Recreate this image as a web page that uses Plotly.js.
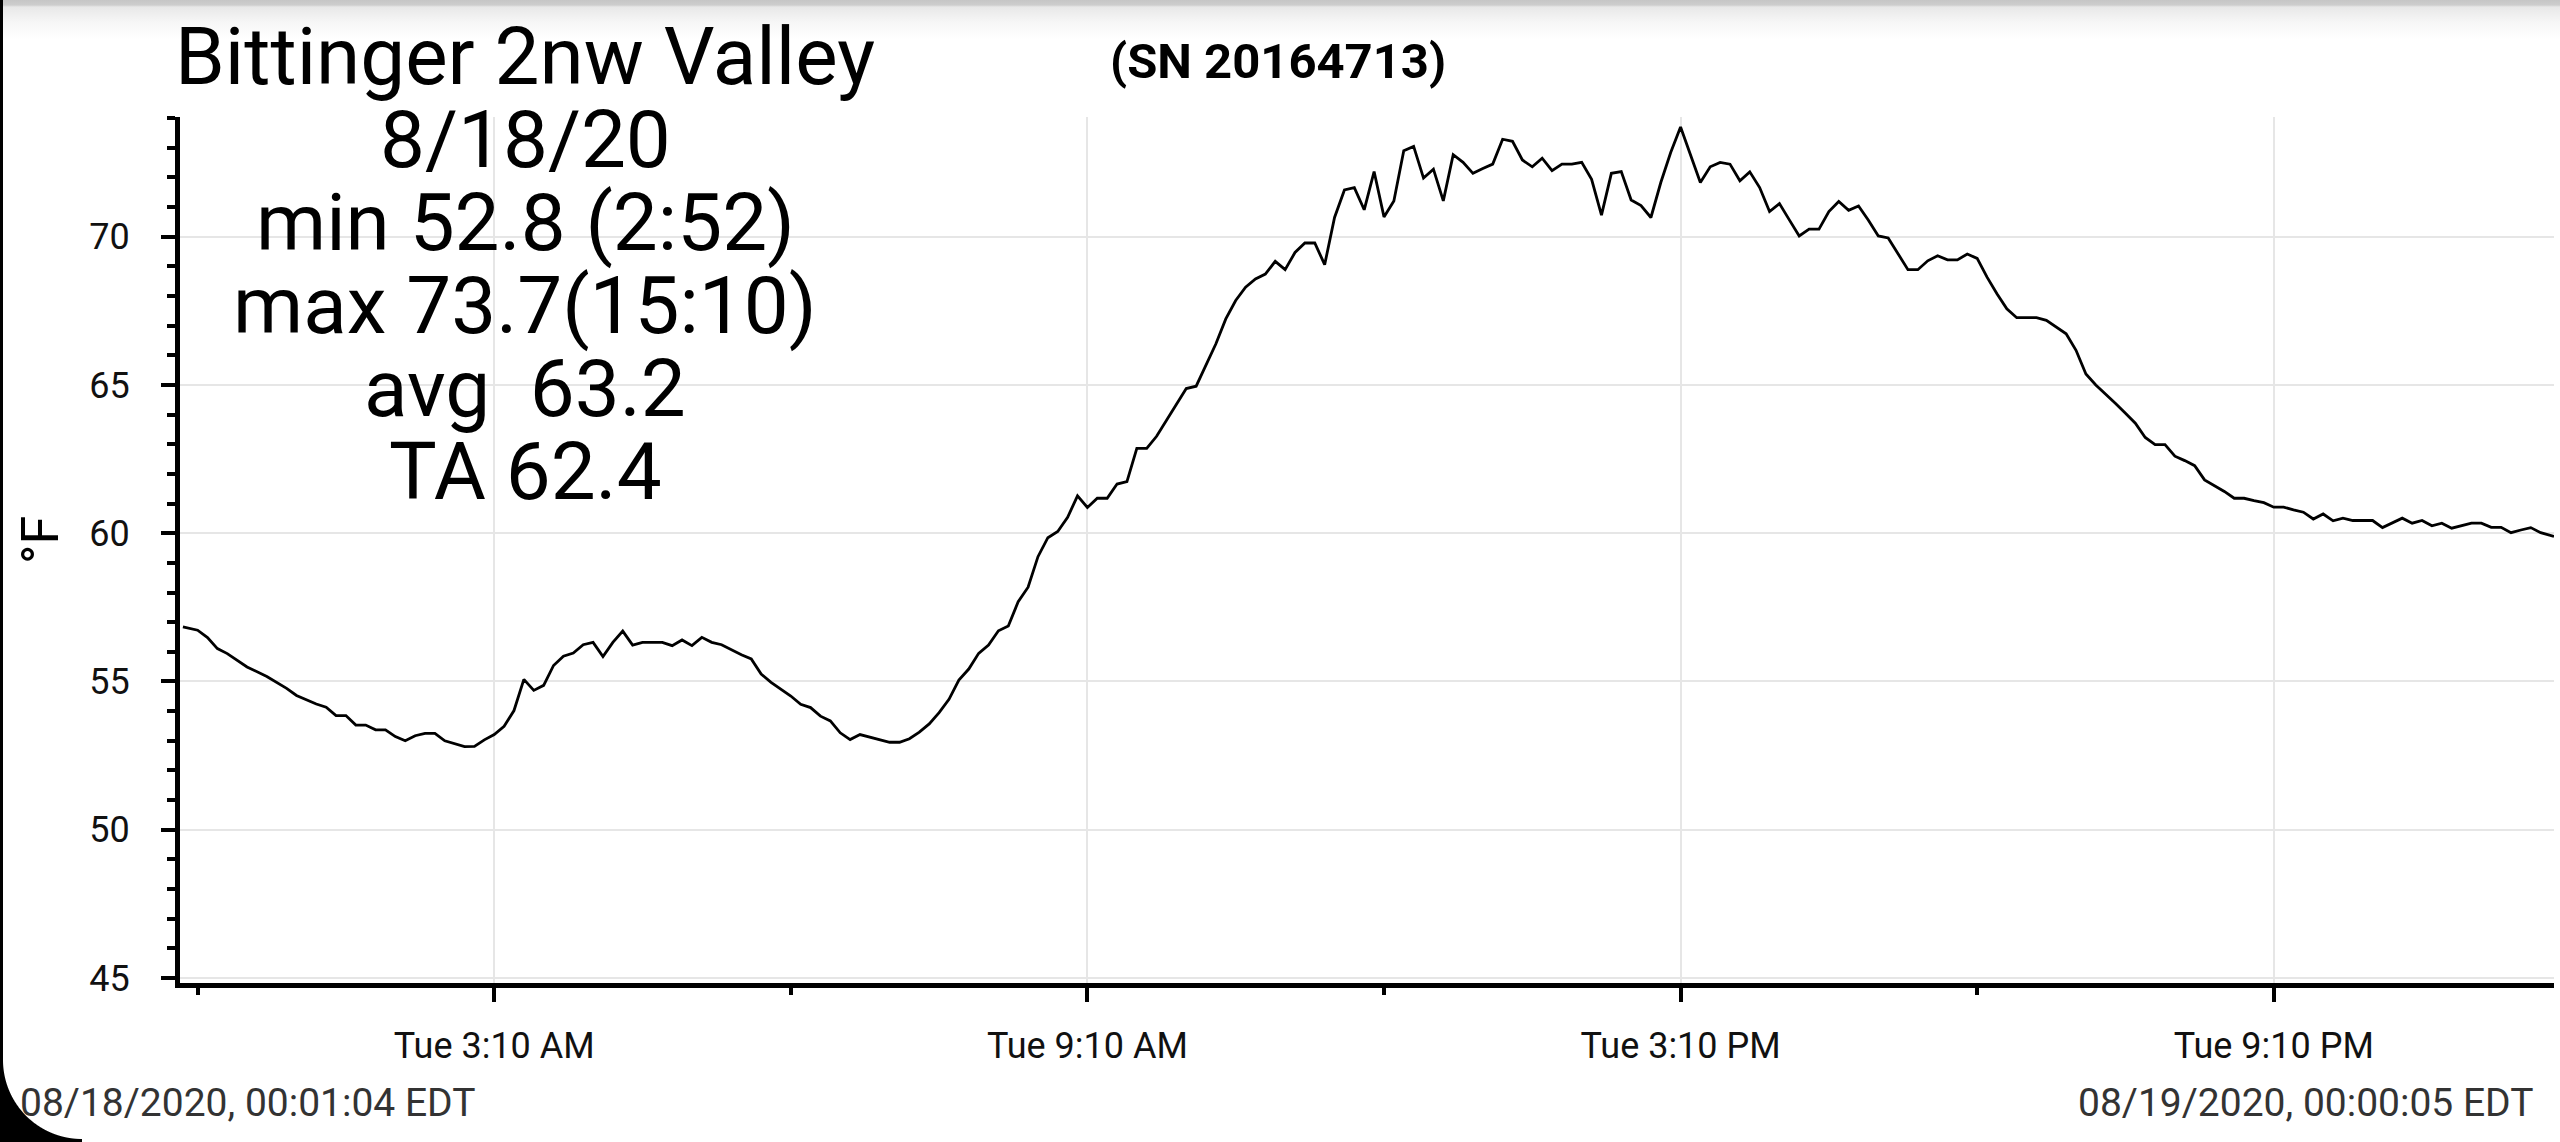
<!DOCTYPE html>
<html>
<head>
<meta charset="utf-8">
<script src="https://cdn.plot.ly/plotly-3.0.1.min.js"></script>
<style>
  html, body { margin: 0; padding: 0; background: #ffffff; }
  #wrap { position: relative; width: 2560px; height: 1142px; overflow: hidden; background: #ffffff; }
  #topband { position: absolute; left: 0; top: 0; width: 2560px; height: 40px;
    background: linear-gradient(to bottom, #c6c6c6 0px, #cdcdcd 5px, #e8e8e8 7px, #f6f6f6 22px, #ffffff 40px); }
  #leftedge { position: absolute; left: 0; top: 0; width: 3px; height: 1142px; background: #000; }
  #corner { position: absolute; left: 0; bottom: 0; width: 82px; height: 82px;
    background: radial-gradient(circle at 100% 0%, rgba(0,0,0,0) 78.5px, #000 79.5px); }
  #chart { position: absolute; left: 0; top: 0; width: 2560px; height: 1142px; }
</style>
</head>
<body>
<div id="wrap">
  <div id="topband"></div>
  <div id="leftedge"></div>
  <div id="corner"></div>
  <div id="chart"></div>
</div>
<script>
// ---- data (minutes after midnight, 08/18/2020) ----
const minutes = [
  1.07, 10, 16, 22, 28, 40, 52, 58, 64, 70, 82, 88, 94, 100, 106, 112, 118, 124, 130, 136,
  142, 148, 154, 160, 166, 172, 178, 184, 190, 196, 202, 208, 214, 220, 226, 232, 238, 244, 250, 256,
  262, 268, 274, 280, 292, 298, 304, 310, 316, 322, 328, 334, 340, 346, 352, 358, 364, 370, 376, 382,
  388, 394, 400, 406, 412, 418, 424, 430, 436, 442, 448, 454, 460, 466, 472, 478, 484, 490, 496, 502,
  508, 514, 520, 526, 532, 538, 544, 550, 556, 562, 568, 574, 580, 586, 592, 598, 604, 610, 616, 622,
  628, 634, 640, 646, 652, 658, 664, 670, 676, 682, 688, 694, 700, 706, 712, 718, 724, 730, 736, 742,
  748, 754, 760, 766, 772, 778, 784, 790, 796, 802, 808, 814, 820, 826, 832, 838, 844, 850, 856, 862,
  868, 874, 880, 886, 892, 898, 904, 910, 916, 922, 928, 934, 940, 946, 952, 958, 964, 970, 976, 982,
  988, 994, 1000, 1006, 1012, 1018, 1024, 1030, 1036, 1042, 1048, 1054, 1060, 1066, 1072, 1078, 1084, 1090, 1096, 1102,
  1108, 1114, 1120, 1126, 1132, 1138, 1144, 1150, 1156, 1162, 1168, 1174, 1180, 1186, 1192, 1198, 1204, 1210, 1216, 1222,
  1228, 1234, 1240, 1246, 1252, 1258, 1264, 1270, 1276, 1282, 1288, 1294, 1300, 1306, 1312, 1318, 1324, 1330, 1336, 1342,
  1348, 1354, 1360, 1366, 1372, 1378, 1384, 1390, 1396, 1402, 1408, 1414, 1420, 1426, 1432, 1440.08
];
const tempF = [
  56.84, 56.73, 56.48, 56.11, 55.94, 55.49, 55.17, 54.96, 54.77, 54.53, 54.24, 54.13, 53.85, 53.85, 53.53, 53.53, 53.37, 53.37, 53.14, 53.00,
  53.17, 53.25, 53.25, 53.00, 52.91, 52.80, 52.81, 53.03, 53.21, 53.49, 54.02, 55.07, 54.70, 54.87, 55.54, 55.85, 55.96, 56.24, 56.32, 55.84,
  56.32, 56.70, 56.23, 56.32, 56.32, 56.21, 56.40, 56.21, 56.49, 56.32, 56.24, 56.07, 55.90, 55.76, 55.25, 54.97, 54.74, 54.51, 54.23, 54.12,
  53.83, 53.67, 53.27, 53.04, 53.21, 53.12, 53.04, 52.95, 52.95, 53.07, 53.29, 53.57, 53.95, 54.40, 55.05, 55.42, 55.95, 56.23, 56.71, 56.87,
  57.69, 58.18, 59.21, 59.85, 60.06, 60.54, 61.26, 60.87, 61.18, 61.18, 61.66, 61.74, 62.86, 62.86, 63.27, 63.81, 64.35, 64.88, 64.96, 65.66,
  66.39, 67.23, 67.85, 68.30, 68.58, 68.74, 69.17, 68.89, 69.47, 69.79, 69.79, 69.06, 70.65, 71.58, 71.66, 70.91, 72.20, 70.67, 71.21, 72.90,
  73.05, 71.98, 72.28, 71.21, 72.77, 72.51, 72.14, 72.30, 72.45, 73.29, 73.22, 72.59, 72.36, 72.65, 72.23, 72.45, 72.45, 72.51, 71.94, 70.73,
  72.14, 72.20, 71.24, 71.05, 70.65, 71.83, 72.84, 73.70, 72.79, 71.83, 72.36, 72.51, 72.45, 71.89, 72.19, 71.66, 70.85, 71.12, 70.57, 70.03,
  70.26, 70.26, 70.85, 71.19, 70.89, 71.04, 70.56, 70.03, 69.96, 69.42, 68.89, 68.89, 69.19, 69.36, 69.22, 69.22, 69.42, 69.27, 68.64, 68.08,
  67.57, 67.27, 67.27, 67.27, 67.18, 66.96, 66.73, 66.17, 65.37, 65.00, 64.70, 64.38, 64.05, 63.71, 63.23, 62.99, 62.99, 62.60, 62.45, 62.28,
  61.80, 61.60, 61.41, 61.18, 61.18, 61.10, 61.03, 60.88, 60.88, 60.79, 60.71, 60.48, 60.65, 60.42, 60.51, 60.43, 60.43, 60.43, 60.19, 60.34,
  60.51, 60.34, 60.43, 60.25, 60.34, 60.17, 60.26, 60.34, 60.34, 60.20, 60.20, 60.02, 60.11, 60.19, 60.02, 59.89
];
const titleLines = ['Bittinger 2nw Valley', '8/18/20', 'min 52.8 (2:52)', 'max 73.7(15:10)', 'avg \u00a063.2', 'TA 62.4'];
const serialLabel = '(SN 20164713)';
const startStamp = '08/18/2020, 00:01:04 EDT';
const endStamp = '08/19/2020, 00:00:05 EDT';
const yTitle = '°F';
const xRange = ['2020-08-17 23:59:18', '2020-08-19 00:00:05'];
const yRange = [44.83, 74.04];

// ---- helpers ----
function toDate(m) {
  const base = Date.UTC(2020, 7, 18, 0, 0, 0);
  return new Date(base + Math.round(m * 60000)).toISOString().replace('T', ' ').slice(0, 19);
}
const L = 180, R = 2554, T = 117, B = 983;
const px = v => (v - L) / (R - L);
const py = v => (B - v) / (B - T);
const FONT = 'Roboto, "Noto Sans", sans-serif';

const trace = {
  type: 'scatter', mode: 'lines',
  x: minutes.map(toDate), y: tempF,
  line: { color: '#000000', width: 2.8 },
  hoverinfo: 'skip'
};

const titleY = [57, 140, 223, 306, 389, 472];
const annotations = titleLines.map((t, i) => ({
  text: t, xref: 'paper', yref: 'paper', x: px(525), y: py(titleY[i]),
  xanchor: 'center', yanchor: 'middle', showarrow: false,
  font: { family: FONT, size: 80, color: '#000000' }
}));
annotations.push({
  text: '<b>' + serialLabel + '</b>', xref: 'paper', yref: 'paper', x: px(1278), y: py(61),
  xanchor: 'center', yanchor: 'middle', showarrow: false,
  font: { family: FONT, size: 49, color: '#000000' }
});
annotations.push({
  text: startStamp, xref: 'paper', yref: 'paper', x: px(18), y: py(1103),
  xanchor: 'left', yanchor: 'middle', showarrow: false,
  font: { family: FONT, size: 39, color: '#333333' }
});
annotations.push({
  text: endStamp, xref: 'paper', yref: 'paper', x: px(2535), y: py(1103),
  xanchor: 'right', yanchor: 'middle', showarrow: false,
  font: { family: FONT, size: 39, color: '#333333' }
});
annotations.push({
  text: yTitle, xref: 'paper', yref: 'paper', x: px(40), y: py(540),
  xanchor: 'center', yanchor: 'middle', textangle: -90, showarrow: false,
  font: { family: FONT, size: 52, color: '#000000' }
});

const layout = {
  width: 2560, height: 1142,
  margin: { l: L, r: 2560 - R, t: T, b: 1142 - B, pad: 0 },
  paper_bgcolor: 'rgba(0,0,0,0)', plot_bgcolor: 'rgba(0,0,0,0)',
  showlegend: false, hovermode: false,
  xaxis: {
    type: 'date', range: xRange, fixedrange: true,
    showline: true, linecolor: '#000000', linewidth: 5, mirror: false,
    ticks: 'outside', ticklen: 14, tickwidth: 4, tickcolor: '#000000',
    tick0: '2020-08-18 03:10:00', dtick: 6 * 3600 * 1000,
    tickformat: '%a %-I:%M %p',
    tickfont: { family: FONT, size: 36, color: '#111111' },
    ticklabelstandoff: 13,
    showgrid: true, gridcolor: '#e6e6e6', gridwidth: 2, zeroline: false,
    minor: { tick0: '2020-08-18 00:10:00', dtick: 3 * 3600 * 1000, ticks: 'outside',
             ticklen: 7, tickwidth: 4, tickcolor: '#000000', showgrid: false }
  },
  yaxis: {
    range: yRange, fixedrange: true,
    showline: true, linecolor: '#000000', linewidth: 5,
    ticks: 'outside', ticklen: 14, tickwidth: 4, tickcolor: '#000000',
    tick0: 45, dtick: 5,
    tickfont: { family: FONT, size: 36, color: '#111111' },
    ticklabelstandoff: 24,
    showgrid: true, gridcolor: '#e6e6e6', gridwidth: 2, zeroline: false,
    minor: { tick0: 45, dtick: 1, ticks: 'outside', ticklen: 8, tickwidth: 4,
             tickcolor: '#000000', showgrid: false }
  },
  annotations: annotations
};

Plotly.newPlot('chart', [trace], layout, { displayModeBar: false, staticPlot: true });
</script>
</body>
</html>
